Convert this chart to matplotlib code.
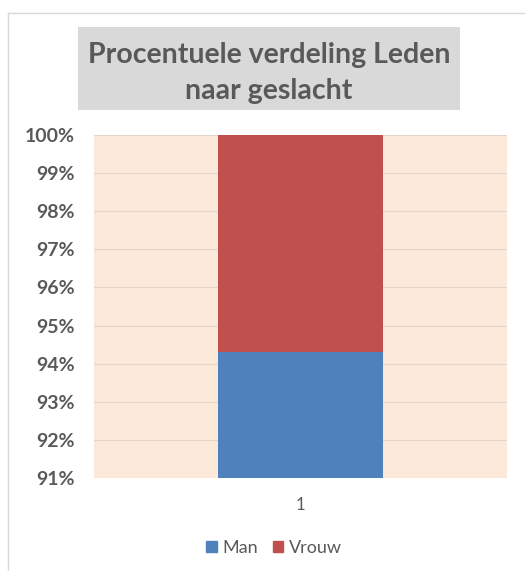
import matplotlib.pyplot as plt
from matplotlib.patches import Rectangle, Patch

categories = ['1']
man = [94.3]
vrouw = [5.7]
yticks = [91, 92, 93, 94, 95, 96, 97, 98, 99, 100]

plt.rcParams['font.family'] = ['Lato', 'DejaVu Sans']

fig = plt.figure(figsize=(5.25, 5.71), dpi=100)
fig.patch.set_facecolor('white')

# chart border (light gray)
fig.add_artist(plt.Line2D([8/525, 8/525], [0, 1 - 13/571], color='#D9D9D9', lw=1))
fig.add_artist(plt.Line2D([8/525, 1], [1 - 13/571, 1 - 13/571], color='#D9D9D9', lw=1))

ax = fig.add_axes([94/525, 1 - 478/571, 413/525, 343/571])
ax.set_facecolor('#FDE9D9')
x = range(len(categories))
ax.bar(x, man, width=0.40, color='#4F81BD', label='Man', zorder=3)
ax.bar(x, vrouw, bottom=man, width=0.40, color='#C0504D', label='Vrouw', zorder=3)

ax.set_ylim(91, 100)
ax.set_xlim(-0.5, 0.5)
ax.set_yticks(yticks)
ax.set_yticklabels([f'{v}%' for v in yticks], fontsize=14, fontweight='bold', color='#595959')
ax.set_xticks(list(x))
ax.set_xticklabels(categories, fontsize=12, color='#595959')
ax.tick_params(length=0, pad=14)
ax.tick_params(axis='y', pad=14)
ax.grid(axis='y', color='#E3D5CC', lw=0.8, zorder=1)
for s in ax.spines.values():
    s.set_visible(False)

# title box
fig.add_artist(Rectangle((78/525, 1 - 110/571), 382/525, 83/571,
                         transform=fig.transFigure, facecolor='#D9D9D9', edgecolor='none'))
fig.text(269/525, 1 - 73/571, 'Procentuele verdeling Leden\nnaar geslacht',
         ha='center', va='center', fontsize=20.5, fontweight='bold', color='#595959',
         linespacing=1.5)

handles = [Patch(color='#4F81BD', label='Man'), Patch(color='#C0504D', label='Vrouw')]
fig.legend(handles=handles, loc='center', bbox_to_anchor=(274/525, 1 - 548/571), ncol=2,
           frameon=False, fontsize=13, handlelength=0.6, handleheight=0.6,
           handletextpad=0.3, columnspacing=0.8, labelcolor='#595959')

fig.savefig('out.png', dpi=100)
